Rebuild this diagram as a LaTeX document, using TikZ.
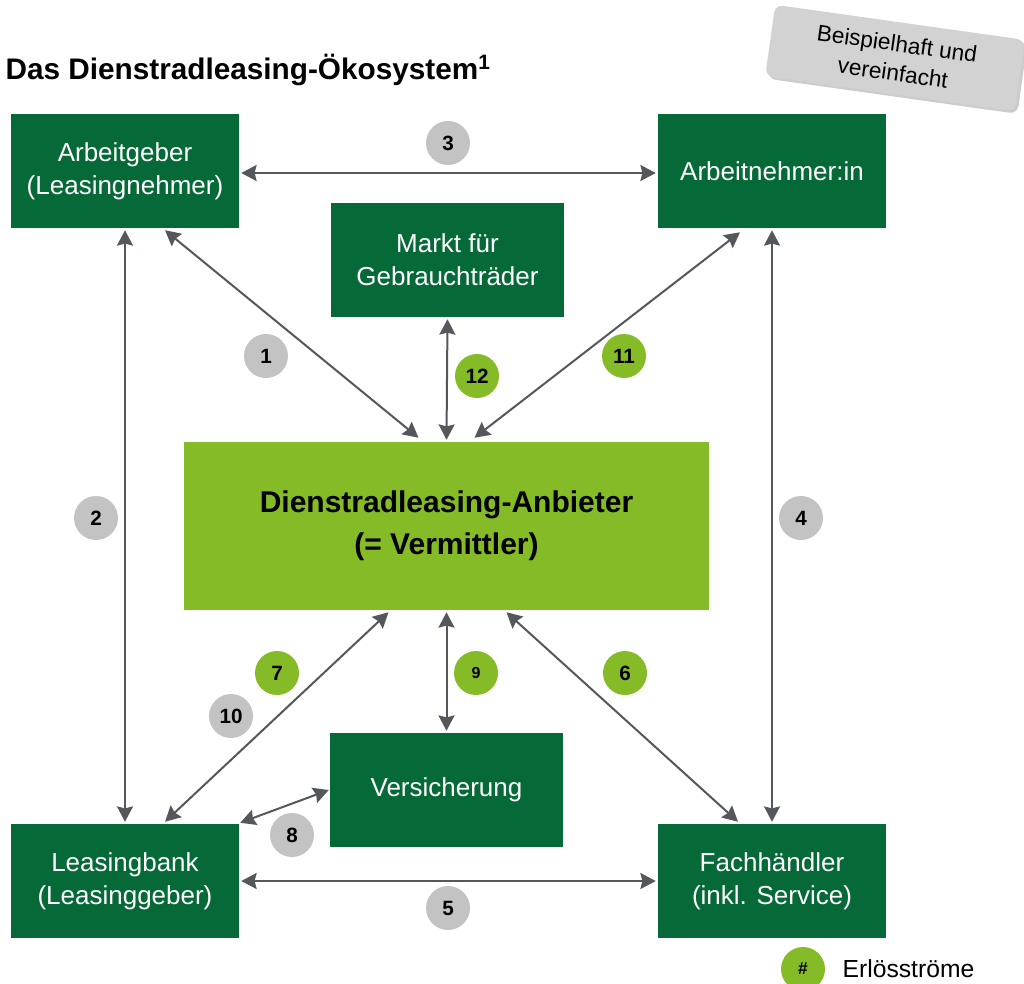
\documentclass[tikz,border=0pt]{standalone}
\usepackage{fontspec}
\setmainfont{Liberation Sans}
\usetikzlibrary{arrows.meta,calc,shadows}
\definecolor{dgreen}{HTML}{066A38}
\definecolor{lgreen}{HTML}{84BB26}
\definecolor{cgray}{HTML}{C3C3C3}
\definecolor{agray}{HTML}{54575C}
\definecolor{ngray}{HTML}{D2D2D2}
\begin{document}
\begin{tikzpicture}[x=0.75pt,y=-0.75pt,
  actor/.style={fill=dgreen,text=white,minimum width=228*0.75pt,minimum height=114*0.75pt,inner sep=0pt,align=center,font=\fontsize{19.5}{25}\selectfont},
  midbox/.style={actor,minimum width=233*0.75pt},
  num/.style={circle,fill=cgray,minimum size=44*0.75pt,inner sep=0pt,font=\fontsize{15.5}{16}\selectfont\bfseries},
  numg/.style={num,fill=lgreen},
  link/.style={draw=agray,line width=1.5pt,{Stealth[length=11.5pt,width=12pt,inset=1.5pt]}-{Stealth[length=11.5pt,width=12pt,inset=1.5pt]}}
]
\useasboundingbox (0,0) rectangle (1024,983);
% title
\node[anchor=west,font=\fontsize{22.3}{26}\selectfont\bfseries] (title) at (1,70) {Das Dienstradleasing-Ökosystem\textsuperscript{1}};
% note
\node[rotate=-8,fill=ngray,rounded corners=6pt,drop shadow={shadow xshift=2pt,shadow yshift=-2pt,opacity=0.4},minimum width=252*0.75pt,minimum height=72*0.75pt,align=center,font=\fontsize{17}{22}\selectfont] (note) at (895,58) {Beispielhaft und\\vereinfacht};
% boxes
\node[actor] (ag) at (125,171) {Arbeitgeber\\(Leasingnehmer)};
\node[actor] (an) at (772,171) {Arbeitnehmer:in};
\node[midbox] (mk) at (447.5,260) {Markt für\\Gebrauchträder};
\node[fill=lgreen,minimum width=525*0.75pt,minimum height=168*0.75pt,inner sep=0pt,align=center,font=\fontsize{22.5}{31.5}\selectfont\bfseries] (anb) at (446.5,526) {Dienstradleasing-Anbieter\\(= Vermittler)};
\node[midbox] (vs) at (446.5,790) {Versicherung};
\node[actor] (lb) at (125,881) {Leasingbank\\(Leasinggeber)};
\node[actor] (fh) at (772,881) {Fachhändler\\(inkl. Service)};
% connectors
\draw[link] ($(ag.south)+(40,2)$) -- ($(anb.north)+(-28,-4)$);
\draw[link] ($(ag.east)+(2,2)$) -- ($(an.west)+(-2,2)$);
\draw[link] ($(ag.south)+(0,2)$) -- ($(lb.north)+(0,-2)$);
\draw[link] ($(an.south)+(0,2)$) -- ($(fh.north)+(0,-2)$);
\draw[link] ($(an.south)+(-32,4)$) -- ($(anb.north)+(28,-4)$);
\draw[link] ($(mk.south)+(0,2)$) -- ($(anb.north)+(0,-2)$);
\draw[link] ($(anb.south)+(-58,2)$) -- ($(lb.north)+(40,-2)$);
\draw[link] ($(anb.south)+(0,2)$) -- ($(vs.north)+(0,-2)$);
\draw[link] ($(anb.south)+(60,2)$) -- ($(fh.north)+(-34,-2)$);
\draw[link] ($(lb.north east)+(1,-1)$) -- ($(vs.west)+(-1,0)$);
\draw[link] ($(lb.east)+(2,0)$) -- ($(fh.west)+(-2,0)$);
% numbers
\node[num] (n3) at (448,143) {3};
\node[num] (n1) at (266,356) {1};
\node[numg] (n12) at (477,376) {12};
\node[numg] (n11) at (624,356) {11};
\node[num] (n2) at (96,518) {2};
\node[num] (n4) at (801,518) {4};
\node[numg] (n7) at (277,673) {7};
\node[numg,font=\fontsize{12}{13}\selectfont\bfseries] (n9) at (476,673) {9};
\node[numg] (n6) at (625,673) {6};
\node[num] (n10) at (231,716) {10};
\node[num] (n8) at (292,835) {8};
\node[num] (n5) at (448,908) {5};
% legend
\node[numg,font=\fontsize{13}{14}\selectfont\bfseries] (lg) at (803,969) {\#};
\node[anchor=west,font=\fontsize{18.5}{20}\selectfont] (lgt) at (838,969) {Erlösströme};
\end{tikzpicture}
\end{document}
